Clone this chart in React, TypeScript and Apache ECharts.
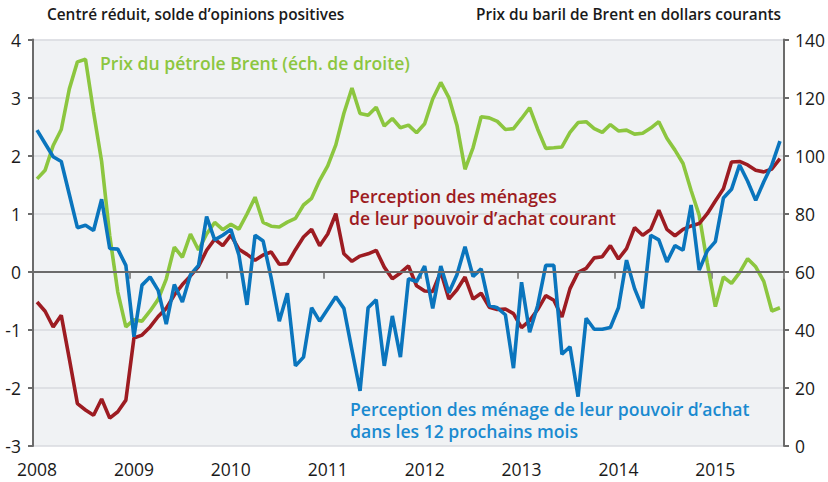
import { useEffect, useRef } from "react";
import * as echarts from "echarts";

const yearLabels = ["2008", "2009", "2010", "2011", "2012", "2013", "2014", "2015"];
const monthsInLastYear = 9;

// Prix du baril de Brent (dollars courants), mensuel, janv. 2008 - sept. 2015
const brentPrice = [
  92, 95, 103.5, 109, 123, 132.3, 133.2, 115, 98, 72.5, 53, 41,
  43.5, 43, 46.5, 50.5, 57.5, 68.5, 65, 73, 67.5, 73, 77, 74.5,
  76.4, 74.7, 79.9, 85.7, 77.0, 75.7, 75.4, 77.1, 78.4, 83.0, 85.3, 91.5,
  96.5, 103.7, 114.6, 123.3, 114.5, 113.9, 116.7, 110.2, 112.8, 109.6, 110.5, 107.9,
  111, 119.5, 125.2, 120, 110.5, 95.3, 102.8, 113.4, 113, 111.8, 109, 109.3,
  112.8, 116.5, 109.1, 102.5, 102.7, 103, 108, 111.4, 111.7, 109.3, 108, 110.7,
  108.5, 108.8, 107.4, 107.7, 109.5, 111.7, 106, 101.9, 97.3, 88, 79.5, 63,
  48, 58.2, 56, 59.7, 64.5, 61.7, 56.7, 46.5, 47.6,
];

// Perception des ménages de leur pouvoir d'achat courant
const achatCourant = [
  -0.52, -0.68, -0.95, -0.75, -1.5, -2.27, -2.38, -2.47, -2.19, -2.52, -2.41, -2.21,
  -1.14, -1.09, -0.95, -0.77, -0.63, -0.4, -0.22, -0.07, 0.09, 0.37, 0.56, 0.45,
  0.63, 0.39, 0.3, 0.2, 0.29, 0.34, 0.13, 0.14, 0.38, 0.6, 0.73, 0.45,
  0.65, 1.0, 0.31, 0.18, 0.27, 0.31, 0.37, 0.08, -0.12, -0.02, 0.1, -0.24,
  -0.33, -0.34, 0.0, -0.47, -0.31, -0.09, -0.47, -0.37, -0.61, -0.65, -0.64, -0.72,
  -0.96, -0.84, -0.65, -0.41, -0.49, -0.78, -0.29, -0.01, 0.06, 0.24, 0.26, 0.45,
  0.22, 0.4, 0.76, 0.63, 0.73, 1.06, 0.73, 0.62, 0.73, 0.79, 0.83, 1.0,
  1.22, 1.43, 1.89, 1.9, 1.84, 1.75, 1.72, 1.77, 1.95,
];

// Perception des ménages de leur pouvoir d'achat dans les 12 prochains mois
const achatFutur = [
  2.44, 2.21, 1.98, 1.9, 1.33, 0.76, 0.8, 0.71, 1.25, 0.4, 0.39, 0.11,
  -1.12, -0.23, -0.09, -0.32, -0.9, -0.22, -0.52, -0.05, 0.11, 0.95, 0.55, 0.63,
  0.73, 0.29, -0.57, 0.63, 0.53, -0.11, -0.85, -0.37, -1.62, -1.47, -0.62, -0.85,
  -0.64, -0.43, -0.63, -1.35, -2.05, -0.62, -0.48, -1.62, -0.76, -1.47, -0.12, -0.17,
  0.1, -0.63, 0.1, -0.36, -0.05, 0.43, -0.08, 0.05, -0.58, -0.62, -0.74, -1.66,
  -0.18, -1.04, -0.58, 0.11, 0.11, -1.42, -1.29, -2.15, -0.8, -0.99, -0.99, -0.96,
  -0.62, 0.2, -0.29, -0.63, 0.63, 0.55, 0.17, 0.45, 0.37, 1.15, 0.03, 0.36,
  0.52, 1.27, 1.42, 1.84, 1.56, 1.23, 1.55, 1.84, 2.25,
];

const months: string[] = [];
yearLabels.forEach((y, yi) => {
  const n = yi === yearLabels.length - 1 ? monthsInLastYear : 12;
  for (let m = 1; m <= n; m++) months.push(`${y}-${String(m).padStart(2, "0")}`);
});

const GREEN = "#8cc63f";
const RED = "#9d1c22";
const BLUE = "#0a75bd";
const BLUE_TEXT = "#1a8ad0";
const FONT = "'Open Sans', 'Noto Sans', sans-serif";
const ANN = `600 17.6px ${FONT}`;
const TITLE = `600 15.4px ${FONT}`;

export default function App() {
  const ref = useRef<HTMLDivElement>(null);
  useEffect(() => {
    if (!ref.current) return;
    const chart = echarts.init(ref.current, undefined, { renderer: "svg" });
    chart.setOption({
      animation: false,
      textStyle: { fontFamily: FONT },
      grid: {
        left: 33,
        right: 44,
        top: 39.5,
        bottom: 36,
        show: true,
        backgroundColor: "#f0f2f4",
        borderWidth: 0,
      },
      xAxis: {
        type: "category",
        data: months,
        boundaryGap: true,
        axisLine: { show: false },
        axisTick: {
          show: true,
          interval: (i: number) => i % 12 === 0 && i > 0,
          length: 7,
          lineStyle: { color: "#8c8c8c", width: 2 },
        },
        axisLabel: {
          interval: (i: number) => i % 12 === 0,
          formatter: (v: string) => v.slice(0, 4),
          color: "#1a1a1a",
          fontSize: 17.5,
          margin: 14,
          fontFamily: FONT,
        },
        splitLine: { show: false },
      },
      yAxis: [
        {
          type: "value",
          min: -3,
          max: 4,
          interval: 1,
          axisLine: { show: true, lineStyle: { color: "#6b6b6b", width: 2 } },
          axisTick: { show: true, length: 5, lineStyle: { color: "#6b6b6b", width: 2 } },
          axisLabel: { color: "#1a1a1a", fontSize: 17.5, margin: 12, fontFamily: FONT },
          splitLine: { show: true, lineStyle: { color: "#d8dadf", width: 1.5 } },
        },
        {
          type: "value",
          min: 0,
          max: 140,
          interval: 20,
          position: "right",
          axisLine: { show: true, lineStyle: { color: "#6b6b6b", width: 2 } },
          axisTick: { show: true, length: 5, lineStyle: { color: "#6b6b6b", width: 2 } },
          axisLabel: { color: "#1a1a1a", fontSize: 17.5, margin: 11, fontFamily: FONT },
          splitLine: { show: false },
        },
      ],
      series: [
        {
          type: "line",
          name: "zero",
          data: [],
          z: 1,
          silent: true,
          markLine: {
            silent: true,
            symbol: "none",
            label: { show: false },
            lineStyle: { color: "#6b6b6b", width: 2, type: "solid" },
            data: [{ yAxis: 0 }],
          },
        },
        {
          type: "line",
          name: "Prix du pétrole Brent",
          yAxisIndex: 1,
          data: brentPrice,
          showSymbol: false,
          lineStyle: { color: GREEN, width: 3.6 },
          itemStyle: { color: GREEN },
          z: 2,
        },
        {
          type: "line",
          name: "Perception des ménages de leur pouvoir d'achat courant",
          data: achatCourant,
          showSymbol: false,
          lineStyle: { color: RED, width: 3.6 },
          itemStyle: { color: RED },
          z: 3,
        },
        {
          type: "line",
          name: "Perception des ménage de leur pouvoir d'achat dans les 12 prochains mois",
          data: achatFutur,
          showSymbol: false,
          lineStyle: { color: BLUE, width: 3.6 },
          itemStyle: { color: BLUE },
          z: 4,
        },
      ],
      graphic: [
        {
          type: "text",
          x: 47,
          y: 14,
          style: {
            text: "Centré réduit, solde d’opinions positives",
            fill: "#1a1a1a",
            font: TITLE,
            verticalAlign: "middle",
          },
        },
        {
          type: "text",
          x: 781,
          y: 14,
          style: {
            text: "Prix du baril de Brent en dollars courants",
            fill: "#1a1a1a",
            font: TITLE,
            align: "right",
            verticalAlign: "middle",
          },
        },
        {
          type: "text",
          x: 100,
          y: 63,
          z: 10,
          style: {
            text: "Prix du pétrole Brent (éch. de droite)",
            fill: GREEN,
            font: ANN,
            verticalAlign: "middle",
          },
        },
        {
          type: "text",
          x: 349,
          y: 206.5,
          z: 10,
          style: {
            text: "Perception des ménages\nde leur pouvoir d’achat courant",
            fill: RED,
            font: ANN,
            lineHeight: 22,
            verticalAlign: "middle",
          },
        },
        {
          type: "text",
          x: 350,
          y: 420,
          z: 10,
          style: {
            text: "Perception des ménage de leur pouvoir d’achat\ndans les 12 prochains mois",
            fill: BLUE_TEXT,
            font: ANN,
            lineHeight: 22,
            verticalAlign: "middle",
          },
        },
      ],
    });
    return () => chart.dispose();
  }, []);
  return (
    <div
      ref={ref}
      style={{ position: "absolute", left: 0, top: 0, width: 828, height: 482 }}
    />
  );
}
